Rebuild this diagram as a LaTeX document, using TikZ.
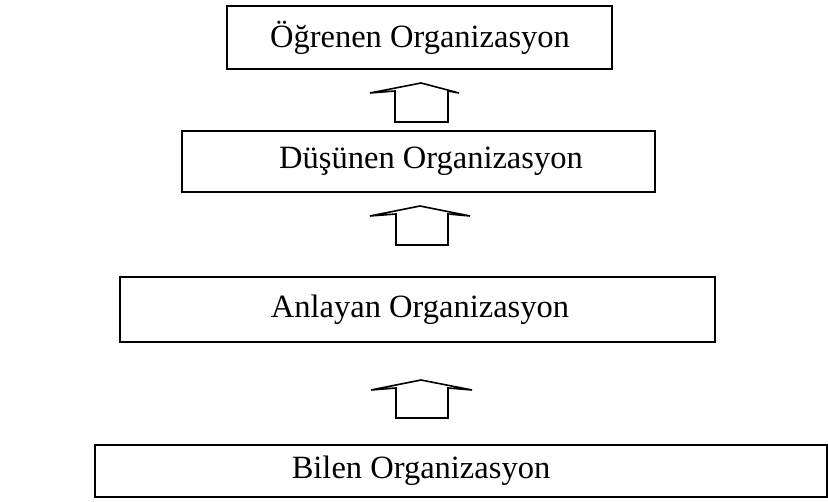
\documentclass[tikz,border=0pt]{standalone}
\usepackage{fontspec}
\setmainfont{Liberation Serif}
\begin{document}
\begin{tikzpicture}[x=1pt,y=-1pt,
  box/.style={draw, line width=1.6pt, inner sep=0pt},
  lbl/.style={inner sep=0pt, font=\fontsize{32.5}{38}\selectfont},
  blockarrow/.style={draw, line width=1.6pt, line join=miter}]
\useasboundingbox (0,0) rectangle (828,502);
\node[box, minimum width=385pt, minimum height=63pt] (b1) at (419.5,37.5) {};
\node[lbl] (t1) at (420,37.5) {Öğrenen Organizasyon};
\node[box, minimum width=473pt, minimum height=61pt] (b2) at (418.5,161.5) {};
\node[lbl] (t2) at (431,161.5) {Düşünen Organizasyon};
\node[box, minimum width=595pt, minimum height=65pt] (b3) at (417.5,309.5) {};
\node[lbl] (t3) at (420,309.5) {Anlayan Organizasyon};
\node[box, minimum width=732pt, minimum height=52pt] (b4) at (461,471) {};
\node[lbl] (t4) at (421,471) {Bilen Organizasyon};
% block arrows
\draw[blockarrow] (395,122) -- (395,91) -- (370,93) -- (421,83) -- (459,93) -- (448,91) -- (448,122) -- cycle;
\draw[blockarrow] (396,245) -- (396,214) -- (370,216) -- (420,206) -- (470,216) -- (448,214) -- (448,245) -- cycle;
\draw[blockarrow] (396,418) -- (396,388) -- (371,390) -- (421,380) -- (472,390) -- (448,388) -- (448,418) -- cycle;
\end{tikzpicture}
\end{document}
